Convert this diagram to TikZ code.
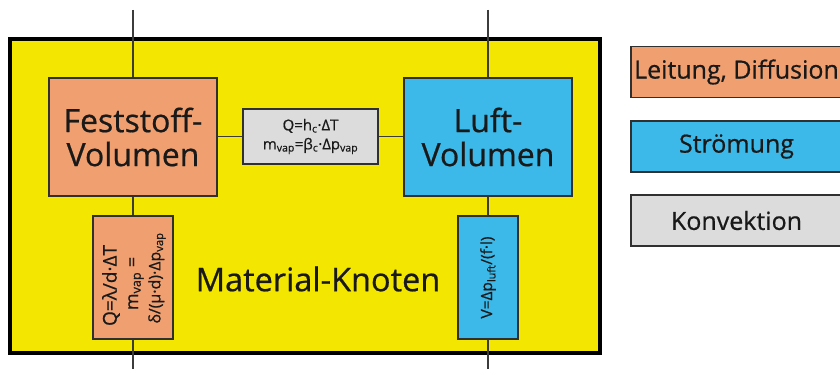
\documentclass[tikz,border=0pt]{standalone}
\usepackage{fontspec}
\setmainfont{Open Sans}[FakeBold=0.6]
\definecolor{yel}{RGB}{243,230,0}
\definecolor{ora}{RGB}{240,160,112}
\definecolor{blu}{RGB}{60,185,232}
\definecolor{gry}{RGB}{220,220,220}
\definecolor{ink}{RGB}{25,25,25}
\tikzset{
  box/.style={draw=ink!90, line width=1.4pt, inner sep=0pt, text=ink, align=center},
  legbox/.style={box, minimum width=211pt, minimum height=51pt, font=\fontsize{25}{28}\selectfont},
  wire/.style={draw=ink!85, line width=1.3pt},
  rottext/.style={rotate=90, text=ink, inner sep=0pt},
}
\newcommand{\sbs}[1]{\textsubscript{#1}}
\begin{document}
\begin{tikzpicture}[x=1pt,y=-1pt]
\useasboundingbox (0,0) rectangle (840,369);
\clip (0,0) rectangle (840,369);
\fill[white] (0,0) rectangle (840,369);
% outer material node
\node[draw=black, line width=4pt, fill=yel, minimum width=590pt, minimum height=314pt, inner sep=0pt] (outer) at (305,196) {};
\coordinate (topL) at (133,10);
\coordinate (topR) at (488,10);
\coordinate (botL) at (133,372);
\coordinate (botR) at (488,372);
% main volumes
\node[box, fill=ora, minimum width=168pt, minimum height=118pt, font=\fontsize{32}{34}\selectfont] (fest) at (133,137) {Feststoff-\\Volumen};
\node[box, fill=blu, minimum width=168pt, minimum height=118pt, font=\fontsize{32}{34}\selectfont] (luft) at (488,137) {Luft-\\Volumen};
\node[box, fill=gry, minimum width=135pt, minimum height=55pt, font=\fontsize{15}{19}\selectfont] (konv) at (310.5,136.5) {Q=h\sbs{c}·ΔT\\m\sbs{vap}=β\sbs{c}·Δp\sbs{vap}};
% lower boxes
\node[box, fill=ora, minimum width=80pt, minimum height=123pt] (leit) at (133,277.5) {};
\node[rottext, font=\fontsize{19}{20}\selectfont] (leit1) at (111,285.5) {Q=λ/d·ΔT};
\node[rottext, font=\fontsize{18}{20}\selectfont] (leit2) at (136,283.5) {m\sbs{vap} =};
\node[rottext, font=\fontsize{16}{20}\selectfont] (leit3) at (157,278) {δ/(μ·d)·Δp\sbs{vap}};
\node[box, fill=blu, minimum width=60pt, minimum height=123pt] (stro) at (488,277.5) {};
\node[rottext, font=\fontsize{15.5}{20}\selectfont] (strotxt) at (stro.center) {V=Δp\sbs{luft}/(f·l)};
\node[text=ink, font=\fontsize{32.5}{34}\selectfont, inner sep=0pt] (mk) at (318,279) {Material-Knoten};
% connectors
\draw[wire] (topL) -- (fest.north);
\draw[wire] (fest.south) -- (leit.north);
\draw[wire] (leit.south) -- (botL);
\draw[wire] (topR) -- (luft.north);
\draw[wire] (luft.south) -- (stro.north);
\draw[wire] (stro.south) -- (botR);
\draw[wire] (fest.east |- konv.west) -- (konv.west);
\draw[wire] (konv.east) -- (luft.west |- konv.east);
% legend
\node[legbox, fill=ora] (l1) at (736.5,72) {Leitung, Diffusion};
\node[legbox, fill=blu] (l2) at (736.5,146.5) {Strömung};
\node[legbox, fill=gry] (l3) at (736.5,220.5) {Konvektion};
\end{tikzpicture}
\end{document}
